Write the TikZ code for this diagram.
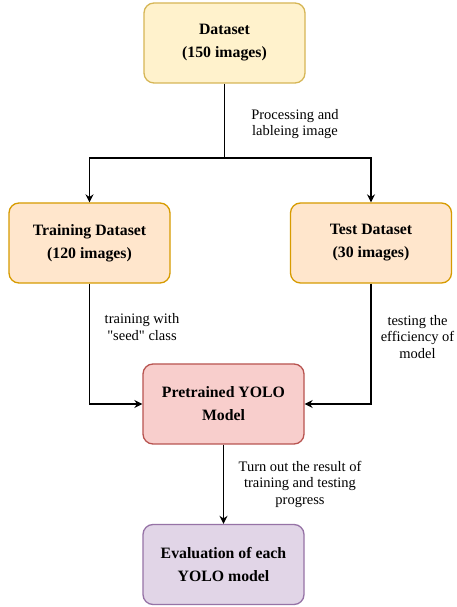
\documentclass[tikz,border=0pt]{standalone}
\usepackage{fontspec}
\setmainfont{Liberation Serif}
\usepackage{xcolor}
\usepackage{tikz}
\usetikzlibrary{positioning, arrows.meta}

\definecolor{yellowfill}{HTML}{FFF2CC}
\definecolor{yellowline}{HTML}{D6B656}
\definecolor{orangefill}{HTML}{FFE6CC}
\definecolor{orangeline}{HTML}{D79B00}
\definecolor{redfill}{HTML}{F8CECC}
\definecolor{redline}{HTML}{B85450}
\definecolor{purplefill}{HTML}{E1D5E7}
\definecolor{purpleline}{HTML}{9673A6}

\begin{document}
\begin{tikzpicture}[>={Stealth[length=8pt,width=8pt]}, x=1pt, y=1pt,
  box/.style={draw, line width=1.3pt, rounded corners=10pt, minimum width=161pt,
    minimum height=80pt, align=center, font=\bfseries\fontsize{15.8}{23}\selectfont},
  lbl/.style={align=center, font=\fontsize{14.5}{16.5}\selectfont},
  flow/.style={line width=1.3pt}]
  % Canvas
  \fill[white] (0,0) rectangle (456,607);
  \useasboundingbox (0,0) rectangle (456,607);
  % Boxes
  \node[box, fill=yellowfill, draw=yellowline] (dataset) at (224.5,564) {Dataset\\(150 images)};
  \node[box, fill=orangefill, draw=orangeline] (train) at (89.5,364) {Training Dataset\\(120 images)};
  \node[box, fill=orangefill, draw=orangeline] (test) at (371,364) {Test Dataset\\(30 images)};
  \node[box, fill=redfill, draw=redline] (yolo) at (223.5,203) {Pretrained YOLO\\Model};
  \node[box, fill=purplefill, draw=purpleline] (eval) at (223.5,42.5) {Evaluation of each\\YOLO model};
  % Arrows
  \coordinate (split) at (224.5,449);
  \draw[flow] (dataset) -- (split);
  \draw[flow,->] (split) -| (train);
  \draw[flow,->] (split) -| (test);
  \draw[flow,->] (train) |- (yolo);
  \draw[flow,->] (test) |- (yolo);
  \draw[flow,->] (yolo) -- (eval);
  % Labels
  \node[lbl] (proclbl) at (295,483) {Processing and\\lableing image};
  \node[lbl] (trainlbl) at (142,280) {training with\\\textquotedbl seed\textquotedbl{} class};
  \node[lbl] (testlbl) at (417.5,270) {testing the\\efficiency of\\model};
  \node[lbl] (resultlbl) at (300,123) {Turn out the result of\\training and testing\\progress};
\end{tikzpicture}
\end{document}
